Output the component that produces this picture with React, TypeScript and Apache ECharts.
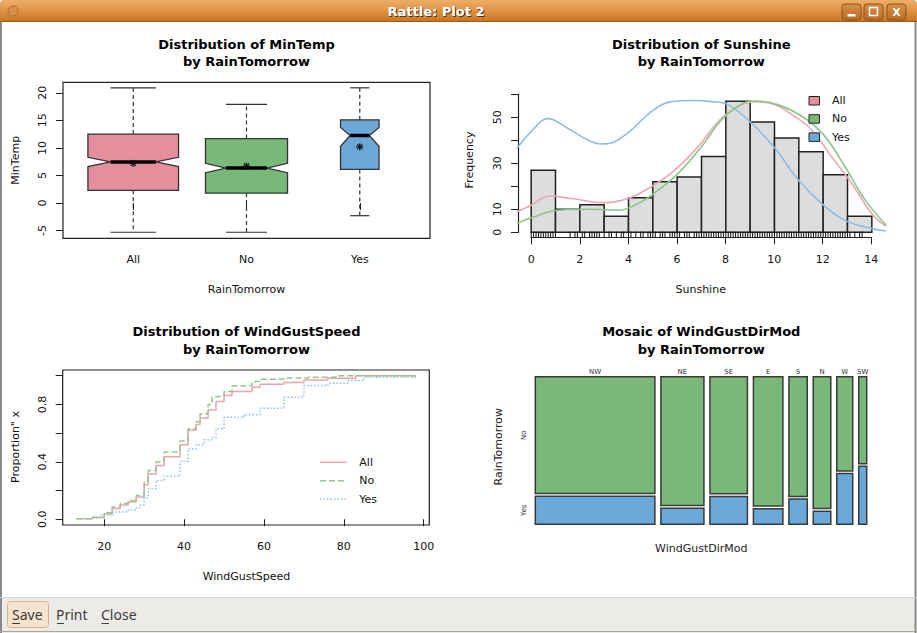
import React, { useEffect, useRef } from "react";
import * as echarts from "echarts";

// ---------------- Data ----------------
// Panel 1: notched boxplot of MinTemp by RainTomorrow
const boxCategories = ["All", "No", "Yes"];
const boxCounts = [366, 300, 66];
const boxLower = [-5.3, -5.3, -2.3];
const boxQ1 = [2.3, 1.8, 6.1];
const boxNotchLow = [6.6, 5.5, 10.3];
const boxMedian = [7.45, 6.35, 12.25];
const boxNotchHigh = [8.3, 7.2, 13.7];
const boxQ3 = [12.5, 11.7, 15.1];
const boxUpper = [20.9, 17.9, 20.9];
const boxMean = [7.2, 6.7, 10.2];
const minTempTicks = [-5, 0, 5, 10, 15, 20];
const boxPositions = [1, 2, 3];

// Panel 2: histogram of Sunshine with density curves
const sunBinStarts = [0, 1, 2, 3, 4, 5, 6, 7, 8, 9, 10, 11, 12, 13];
const sunCounts = [27, 10, 12, 7, 15, 22, 24, 33, 57, 48, 41, 35, 25, 7];
const densAll = [
  [-0.58, 8.9], [0, 11.8], [0.75, 15.8], [1.65, 14.7], [3.02, 12.9], [3.98, 14.7],
  [4.94, 19.8], [5.9, 27], [6.86, 37.2], [7.82, 49.6], [8.65, 55.4], [9.2, 56.8],
  [10.02, 55.4], [10.84, 50.3], [11.53, 44.5], [12.35, 32.8], [13.18, 21.2], [14, 8.1], [14.59, 2.6],
];
const densNo = [
  [-0.58, 3.8], [0, 6.3], [1.1, 9.6], [2.47, 10], [3.57, 9.6], [4.39, 12.5], [5.22, 18.3],
  [6.04, 25.6], [7, 37.2], [7.82, 48.8], [8.65, 55.8], [9.2, 57.1], [10.16, 55.4],
  [11.25, 49.6], [12.08, 41.6], [12.9, 28.5], [13.73, 14], [14.59, 3.1],
];
const densYes = [
  [-0.58, 36.5], [0, 43.8], [0.69, 49.4], [1.51, 45.2], [2.33, 40.1], [2.88, 38.4],
  [3.43, 39.4], [4.12, 44.5], [4.94, 52.5], [5.76, 56.8], [6.59, 57.3], [7.41, 56.8],
  [8.1, 55.4], [9.06, 47.4], [10.02, 36.5], [10.98, 22.7], [11.94, 12.5], [12.9, 5.2],
  [14, 1.6], [14.59, 0.6],
];
const sunRug = [
  0, 0.1, 0.2, 0.3, 0.4, 0.5, 0.6, 0.7, 0.8, 0.9, 1.0, 1.6, 1.8, 1.9, 2.1, 2.2, 2.4, 2.5,
  2.6, 2.7, 2.8, 3.0, 3.2, 3.3, 3.5, 3.7, 3.8, 4.0, 4.1, 4.3, 4.5, 4.6, 4.8, 4.9, 5.0, 5.1,
  5.3, 5.4, 5.5, 5.7, 5.8, 5.9, 6.0, 6.1, 6.3, 6.4, 6.5, 6.7, 6.8, 6.9, 7.0, 7.1, 7.2, 7.3,
  7.4, 7.5, 7.6, 7.7, 7.8, 7.9, 8.0, 8.1, 8.2, 8.3, 8.4, 8.5, 8.6, 8.7, 8.8, 8.9, 9.0, 9.1,
  9.2, 9.3, 9.4, 9.5, 9.6, 9.7, 9.8, 9.9, 10.0, 10.1, 10.2, 10.3, 10.4, 10.5, 10.6, 10.7,
  10.8, 10.9, 11.0, 11.1, 11.2, 11.3, 11.4, 11.5, 11.6, 11.7, 11.8, 11.9, 12.0, 12.1, 12.2,
  12.3, 12.4, 12.5, 12.6, 12.7, 12.8, 12.9, 13.0, 13.1, 13.3, 13.5, 13.6,
];
const freqLabels = [0, 10, 30, 50];

// Panel 3: ECDF of WindGustSpeed
const ecdfAllX = [13, 17, 20, 22, 24, 26, 28, 30, 31, 33, 35, 39, 41, 43, 44, 46, 48, 50, 52, 57, 59, 65, 70, 76, 83, 98];
const ecdfAllY = [0.004, 0.012, 0.039, 0.075, 0.1, 0.12, 0.155, 0.24, 0.315, 0.375, 0.435, 0.52, 0.62, 0.66, 0.705, 0.762, 0.82, 0.862, 0.89, 0.92, 0.94, 0.953, 0.971, 0.982, 1.0, 1.0];
const ecdfNoX = [13, 17, 20, 22, 24, 26, 28, 30, 31, 33, 35, 39, 41, 43, 44, 46, 47, 50, 52, 57, 59, 65, 71, 78, 98];
const ecdfNoY = [0.004, 0.013, 0.045, 0.085, 0.11, 0.13, 0.165, 0.26, 0.34, 0.4, 0.468, 0.545, 0.63, 0.68, 0.735, 0.8, 0.856, 0.89, 0.93, 0.96, 0.975, 0.985, 0.99, 1.0, 1.0];
const ecdfYesX = [17, 19, 22, 26, 28, 29, 30, 31, 33, 35, 39, 41, 43, 45, 47, 48, 50, 55, 59, 65, 70, 76, 81, 85, 98];
const ecdfYesY = [0.015, 0.03, 0.05, 0.065, 0.08, 0.1, 0.15, 0.213, 0.27, 0.3, 0.405, 0.49, 0.52, 0.554, 0.57, 0.63, 0.71, 0.728, 0.774, 0.85, 0.932, 0.948, 0.966, 0.99, 0.99];
const windTicks = [20, 40, 60, 80, 100];
const propTicks = [0, 0.2, 0.4, 0.6, 0.8, 1.0];
const propLabels = [0, 0.4, 0.8];

// Panel 4: mosaic of WindGustDirMod by RainTomorrow
const dirCategories = ["NW", "NE", "SE", "E", "S", "N", "W", "SW"];
const dirNo = [121, 48, 38, 33, 19, 20, 13, 6];
const dirYes = [29, 6, 9, 4, 4, 2, 7, 4];

// ---------------- Styles ----------------
const FONT = '"DejaVu Sans", sans-serif';
const PINK = "#E48F9D";
const GREEN = "#78B878";
const BLUE = "#6AA8D9";
const boxColors = [PINK, GREEN, BLUE];

const labelStyle = { fontFamily: FONT, fontSize: 11, color: "#111" };
const tickStyle = { show: true, length: 7, lineStyle: { color: "#222", width: 1 } };

function txt(text: string, x: number, y: number, opts: any = {}) {
  return {
    type: "text",
    x,
    y,
    rotation: opts.rotation || 0,
    z: 50,
    style: {
      text,
      fill: opts.fill || "#111",
      font: opts.font || `11px ${FONT}`,
      align: opts.align || "center",
      verticalAlign: "middle",
      textAlign: opts.align || "center",
      textVerticalAlign: "middle",
      ...(opts.extra || {}),
    },
  };
}

function buildOption() {
  const maxN = Math.max(...boxCounts);
  const dirTotals = dirNo.map((v, i) => v + dirYes[i]);
  const grand = dirTotals.reduce((a, b) => a + b, 0);

  const graphic: any[] = [
    // window body
    { type: "rect", shape: { x: 0, y: 0, width: 917, height: 633 }, style: { fill: "#ffffff" }, z: -10 },
    { type: "line", shape: { x1: 1, y1: 20, x2: 1, y2: 633 }, style: { stroke: "#8a8a8a", lineWidth: 2 }, z: 40 },
    { type: "line", shape: { x1: 915.5, y1: 20, x2: 915.5, y2: 633 }, style: { stroke: "#8a8a8a", lineWidth: 2 }, z: 40 },
    // title bar
    {
      type: "rect",
      shape: { x: 0, y: 0, width: 917, height: 22, r: [4, 4, 0, 0] },
      style: {
        fill: new echarts.graphic.LinearGradient(0, 0, 0, 1, [
          { offset: 0, color: "#EEAE68" },
          { offset: 0.5, color: "#DE9244" },
          { offset: 1, color: "#C6741F" },
        ]),
      },
      z: 40,
    },
    { type: "line", shape: { x1: 0, y1: 21.5, x2: 917, y2: 21.5 }, style: { stroke: "#9A5B1C", lineWidth: 1 }, z: 41 },
    { type: "circle", shape: { cx: 13, cy: 11, r: 5 }, style: { fill: "#D88E48", stroke: "#B56B25", lineWidth: 1 }, z: 41 },
    txt("Rattle: Plot 2", 436, 11, {
      font: `bold 13px ${FONT}`,
      fill: "#ffffff",
      extra: { textShadowColor: "rgba(70,35,0,0.9)", textShadowBlur: 1, textShadowOffsetX: 1, textShadowOffsetY: 1 },
    }),
    ...[842, 864, 887].map((bx) => ({
      type: "rect",
      shape: { x: bx, y: 4, width: 19, height: 16, r: 3 },
      style: {
        fill: new echarts.graphic.LinearGradient(0, 0, 0, 1, [
          { offset: 0, color: "#D99149" },
          { offset: 1, color: "#B86A22" },
        ]),
        stroke: "#8E5116",
        lineWidth: 1,
      },
      z: 42,
    })),
    { type: "rect", shape: { x: 847.5, y: 14, width: 8, height: 2.5 }, style: { fill: "#ffffff" }, z: 43 },
    { type: "rect", shape: { x: 869.5, y: 7.5, width: 8, height: 8 }, style: { fill: "none", stroke: "#ffffff", lineWidth: 1.5 }, z: 43 },
    txt("X", 896.5, 12, { font: `bold 11px ${FONT}`, fill: "#ffffff", extra: { textShadowColor: "rgba(70,35,0,0.8)", textShadowOffsetX: 1, textShadowOffsetY: 1 } }),
    // bottom button bar
    { type: "rect", shape: { x: 0, y: 597, width: 917, height: 36 }, style: { fill: "#EDEBE8" }, z: 39 },
    { type: "line", shape: { x1: 0, y1: 597.5, x2: 917, y2: 597.5 }, style: { stroke: "#D8D4CF", lineWidth: 1 }, z: 40 },
    { type: "line", shape: { x1: 0, y1: 631.5, x2: 917, y2: 631.5 }, style: { stroke: "#A9A6A2", lineWidth: 1 }, z: 40 },
    { type: "rect", shape: { x: 7.5, y: 601.5, width: 41, height: 26, r: 3 }, style: { fill: "#F4E4CE", stroke: "#D9B68E", lineWidth: 1 }, z: 41 },
    txt("Save", 12, 614.5, { align: "left", font: `14px "Noto Sans", sans-serif`, fill: "#3C3C3C" }),
    txt("Print", 56, 614.5, { align: "left", font: `14px "Noto Sans", sans-serif`, fill: "#3C3C3C" }),
    txt("Close", 101, 614.5, { align: "left", font: `14px "Noto Sans", sans-serif`, fill: "#3C3C3C" }),
    { type: "line", shape: { x1: 12, y1: 623.5, x2: 20, y2: 623.5 }, style: { stroke: "#3C3C3C", lineWidth: 1 }, z: 52 },
    { type: "line", shape: { x1: 57, y1: 623.5, x2: 64, y2: 623.5 }, style: { stroke: "#3C3C3C", lineWidth: 1 }, z: 52 },
    { type: "line", shape: { x1: 101.5, y1: 623.5, x2: 109, y2: 623.5 }, style: { stroke: "#3C3C3C", lineWidth: 1 }, z: 52 },

    // panel titles
    txt("Distribution of MinTemp", 246.5, 44.3, { font: `bold 13px ${FONT}`, fill: "#000" }),
    txt("by RainTomorrow", 246.5, 61.7, { font: `bold 13px ${FONT}`, fill: "#000" }),
    txt("Distribution of Sunshine", 701.3, 44.3, { font: `bold 13px ${FONT}`, fill: "#000" }),
    txt("by RainTomorrow", 701.3, 61.7, { font: `bold 13px ${FONT}`, fill: "#000" }),
    txt("Distribution of WindGustSpeed", 246.5, 331.7, { font: `bold 13px ${FONT}`, fill: "#000" }),
    txt("by RainTomorrow", 246.5, 349, { font: `bold 13px ${FONT}`, fill: "#000" }),
    txt("Mosaic of WindGustDirMod", 701.3, 331.7, { font: `bold 13px ${FONT}`, fill: "#000" }),
    txt("by RainTomorrow", 701.3, 349, { font: `bold 13px ${FONT}`, fill: "#000" }),

    // axis titles
    txt("RainTomorrow", 246.5, 289.3),
    txt("MinTemp", 15, 160.3, { rotation: Math.PI / 2 }),
    txt("Sunshine", 700.7, 289.3),
    txt("Frequency", 469.7, 160, { rotation: Math.PI / 2 }),
    txt("WindGustSpeed", 246.5, 576.7),
    txt('Proportion" x', 15, 447, { rotation: Math.PI / 2 }),
    txt("RainTomorrow", 498, 446.7, { rotation: Math.PI / 2, fill: "#222" }),
    txt("WindGustDirMod", 701.3, 548.3, { fill: "#222" }),

    // legend panel 2
    ...[PINK, GREEN, BLUE].map((c, i) => ({
      type: "rect",
      shape: { x: 809, y: 96.5 + i * 18.2, width: 10.5, height: 8.5 },
      style: { fill: c, stroke: "#222", lineWidth: 1 },
      z: 50,
    })),
    txt("All", 832, 100.7, { align: "left" }),
    txt("No", 832, 118.9, { align: "left" }),
    txt("Yes", 832, 137.1, { align: "left" }),

    // legend panel 3
    { type: "line", shape: { x1: 320, y1: 462.3, x2: 346.7, y2: 462.3 }, style: { stroke: "#F0A2AE", lineWidth: 1.5 }, z: 50 },
    { type: "line", shape: { x1: 320, y1: 480.7, x2: 346.7, y2: 480.7 }, style: { stroke: "#8FC98D", lineWidth: 1.5, lineDash: [6, 3] }, z: 50 },
    { type: "line", shape: { x1: 320, y1: 499, x2: 346.7, y2: 499 }, style: { stroke: "#8DC0EC", lineWidth: 1.5, lineDash: [1.5, 2] }, z: 50 },
    txt("All", 359.3, 462.3, { align: "left" }),
    txt("No", 359.3, 480.7, { align: "left" }),
    txt("Yes", 359.3, 499, { align: "left" }),
  ];

  return {
    animation: false,
    backgroundColor: "#ffffff",
    graphic,
    grid: [
      { left: 63, top: 82.3, width: 367, height: 156, show: true, borderColor: "#222", borderWidth: 1.2, backgroundColor: "transparent" },
      { left: 517.3, top: 93.6, width: 368.4, height: 144 },
      { left: 531.3, top: 93.6, width: 340, height: 143.7 },
      { left: 518, top: 94.3, width: 340, height: 138 },
      { left: 62.7, top: 370, width: 366.6, height: 155, show: true, borderColor: "#222", borderWidth: 1.2, backgroundColor: "transparent" },
      { left: 535.3, top: 376.7, width: 331.4, height: 147.6 },
    ],
    xAxis: [
      {
        gridIndex: 0, type: "value", min: 0.38, max: 3.62,
        axisLine: { show: false }, splitLine: { show: false },
        axisTick: { ...tickStyle, customValues: boxPositions },
        axisLabel: { ...labelStyle, margin: 16, customValues: boxPositions, formatter: (v: number) => boxCategories[Math.round(v) - 1] ?? "" },
      },
      { gridIndex: 1, type: "value", min: -0.57, max: 14.57, show: false },
      {
        gridIndex: 2, type: "value", min: 0, max: 14, interval: 2,
        axisLine: { show: true, lineStyle: { color: "#222", width: 1.2 } }, splitLine: { show: false },
        axisTick: tickStyle, axisLabel: { ...labelStyle, margin: 17 },
      },
      { gridIndex: 3, type: "value", min: 0, max: 1, show: false },
      {
        gridIndex: 4, type: "value", min: 9.6, max: 101.4,
        axisLine: { show: false }, splitLine: { show: false },
        axisTick: { ...tickStyle, customValues: windTicks },
        axisLabel: { ...labelStyle, margin: 16, customValues: windTicks },
      },
      { gridIndex: 5, type: "value", min: 0, max: 8, show: false },
    ],
    yAxis: [
      {
        gridIndex: 0, type: "value", min: -6.4, max: 21.9,
        axisLine: { show: false }, splitLine: { show: false },
        axisTick: { ...tickStyle, customValues: minTempTicks },
        axisLabel: { ...labelStyle, margin: 15, rotate: 90, customValues: minTempTicks },
      },
      { gridIndex: 1, type: "value", min: -2.3, max: 60.3, show: false },
      { gridIndex: 2, type: "value", min: 0, max: 1, show: false },
      {
        gridIndex: 3, type: "value", min: 0, max: 60, interval: 10,
        axisLine: { show: true, lineStyle: { color: "#222", width: 1.2 } }, splitLine: { show: false },
        axisTick: tickStyle,
        axisLabel: { ...labelStyle, margin: 15, rotate: 90, customValues: freqLabels },
      },
      {
        gridIndex: 4, type: "value", min: -0.04, max: 1.04,
        axisLine: { show: false }, splitLine: { show: false },
        axisTick: { ...tickStyle, customValues: propTicks },
        axisLabel: { ...labelStyle, margin: 15, rotate: 90, customValues: propLabels, formatter: (v: number) => v.toFixed(1) },
      },
      { gridIndex: 5, type: "value", min: 0, max: 1, show: false },
    ],
    series: [
      // boxplot
      {
        type: "custom",
        xAxisIndex: 0,
        yAxisIndex: 0,
        encode: { x: 0, y: 4 },
        data: boxCategories.map((c, i) => [
          boxPositions[i], boxLower[i], boxQ1[i], boxNotchLow[i], boxMedian[i],
          boxNotchHigh[i], boxQ3[i], boxUpper[i], boxMean[i], boxCounts[i],
        ]),
        renderItem: (params: any, api: any) => {
          const x = api.value(0);
          const yv = (k: number) => api.coord([x, api.value(k)])[1];
          const cx = api.coord([x, 0])[0];
          const wUnits = 0.8 * Math.sqrt(api.value(9) / maxN);
          const hw = api.size([wUnits, 0])[0] / 2;
          const yLow = yv(1), yQ1 = yv(2), yNL = yv(3), yMed = yv(4), yNH = yv(5), yQ3 = yv(6), yHigh = yv(7), yMean = yv(8);
          const L = cx - hw, R = cx + hw, iL = cx - hw / 2, iR = cx + hw / 2;
          const stroke = "#333";
          const s = 3.6, d = 2.6;
          return {
            type: "group",
            children: [
              { type: "line", shape: { x1: cx, y1: yQ3, x2: cx, y2: yHigh }, style: { stroke, lineWidth: 1.2, lineDash: [4, 3] } },
              { type: "line", shape: { x1: cx, y1: yQ1, x2: cx, y2: yLow }, style: { stroke, lineWidth: 1.2, lineDash: [4, 3] } },
              { type: "line", shape: { x1: iL, y1: yHigh, x2: iR, y2: yHigh }, style: { stroke, lineWidth: 1.2 } },
              { type: "line", shape: { x1: iL, y1: yLow, x2: iR, y2: yLow }, style: { stroke, lineWidth: 1.2 } },
              {
                type: "polygon",
                shape: { points: [[L, yQ3], [R, yQ3], [R, yNH], [iR, yMed], [R, yNL], [R, yQ1], [L, yQ1], [L, yNL], [iL, yMed], [L, yNH]] },
                style: { fill: boxColors[params.dataIndex], stroke, lineWidth: 1.3 },
              },
              { type: "line", shape: { x1: iL, y1: yMed, x2: iR, y2: yMed }, style: { stroke: "#000", lineWidth: 3.5 } },
              { type: "line", shape: { x1: cx - s, y1: yMean, x2: cx + s, y2: yMean }, style: { stroke: "#111", lineWidth: 1.2 } },
              { type: "line", shape: { x1: cx, y1: yMean - s, x2: cx, y2: yMean + s }, style: { stroke: "#111", lineWidth: 1.2 } },
              { type: "line", shape: { x1: cx - d, y1: yMean - d, x2: cx + d, y2: yMean + d }, style: { stroke: "#111", lineWidth: 1.2 } },
              { type: "line", shape: { x1: cx - d, y1: yMean + d, x2: cx + d, y2: yMean - d }, style: { stroke: "#111", lineWidth: 1.2 } },
            ],
          };
        },
        z: 5,
      },
      // histogram
      {
        type: "custom",
        xAxisIndex: 1,
        yAxisIndex: 1,
        encode: { x: [0, 1], y: 2 },
        data: sunBinStarts.map((b, i) => [b, b + 1, sunCounts[i]]),
        renderItem: (params: any, api: any) => {
          const p0 = api.coord([api.value(0), api.value(2)]);
          const p1 = api.coord([api.value(1), 0]);
          return {
            type: "rect",
            shape: { x: p0[0], y: p0[1], width: p1[0] - p0[0], height: p1[1] - p0[1] },
            style: { fill: "#DCDDDC", stroke: "#222", lineWidth: 1.5 },
          };
        },
        z: 2,
      },
      // rug
      {
        type: "custom",
        xAxisIndex: 1,
        yAxisIndex: 1,
        encode: { x: 0, y: 1 },
        data: sunRug.map((v) => [v, 0]),
        renderItem: (params: any, api: any) => {
          const p = api.coord([api.value(0), 0]);
          const bottom = params.coordSys.y + params.coordSys.height;
          return { type: "line", shape: { x1: p[0], y1: bottom, x2: p[0], y2: bottom - 6 }, style: { stroke: "#111", lineWidth: 1 } };
        },
        z: 3,
      },
      // density curves
      { name: "Yes", type: "line", xAxisIndex: 1, yAxisIndex: 1, data: densYes, smooth: 0.4, symbol: "none", lineStyle: { color: "#8DBDE7", width: 1.6 }, z: 4 },
      { name: "All", type: "line", xAxisIndex: 1, yAxisIndex: 1, data: densAll, smooth: 0.4, symbol: "none", lineStyle: { color: "#EDA6B1", width: 1.6 }, z: 4 },
      { name: "No", type: "line", xAxisIndex: 1, yAxisIndex: 1, data: densNo, smooth: 0.4, symbol: "none", lineStyle: { color: "#8DC68B", width: 1.6 }, z: 4 },
      // ECDF
      { name: "All", type: "line", xAxisIndex: 4, yAxisIndex: 4, step: "end", symbol: "none", data: ecdfAllX.map((x, i) => [x, ecdfAllY[i]]), lineStyle: { color: "#F0A2AE", width: 1.5 }, z: 4 },
      { name: "No", type: "line", xAxisIndex: 4, yAxisIndex: 4, step: "end", symbol: "none", data: ecdfNoX.map((x, i) => [x, ecdfNoY[i]]), lineStyle: { color: "#8FC98D", width: 1.5, type: [6, 3] }, z: 5 },
      { name: "Yes", type: "line", xAxisIndex: 4, yAxisIndex: 4, step: "end", symbol: "none", data: ecdfYesX.map((x, i) => [x, ecdfYesY[i]]), lineStyle: { color: "#8DC0EC", width: 1.5, type: [1.5, 2] }, z: 4 },
      // mosaic
      {
        type: "custom",
        xAxisIndex: 5,
        yAxisIndex: 5,
        encode: { x: 0, y: 1 },
        data: dirCategories.map((c, i) => [i + 0.5, 0.5, i]),
        renderItem: (params: any, api: any) => {
          const cs = params.coordSys;
          const i = api.value(2);
          const gapX = 6, gapY = 2.7;
          const n = dirCategories.length;
          const usableW = cs.width - gapX * (n - 1);
          let x0 = cs.x;
          for (let k = 0; k < i; k++) x0 += (dirTotals[k] / grand) * usableW + gapX;
          const w = (dirTotals[i] / grand) * usableW;
          const usableH = cs.height - gapY;
          const hNo = (dirNo[i] / dirTotals[i]) * usableH;
          const hYes = usableH - hNo;
          const tileStroke = { stroke: "#3A3A3A", lineWidth: 1.5 };
          const children: any[] = [
            { type: "rect", shape: { x: x0, y: cs.y, width: w, height: hNo }, style: { fill: GREEN, ...tileStroke } },
            { type: "rect", shape: { x: x0, y: cs.y + hNo + gapY, width: w, height: hYes }, style: { fill: BLUE, ...tileStroke } },
            {
              type: "text", x: x0 + w / 2, y: cs.y - 5,
              style: { text: dirCategories[i], fill: "#333", font: `7px ${FONT}`, align: "center", verticalAlign: "middle", textAlign: "center", textVerticalAlign: "middle" },
            },
          ];
          if (i === 0) {
            children.push(
              { type: "text", x: cs.x - 11.6, y: cs.y + hNo / 2, rotation: Math.PI / 2, style: { text: "No", fill: "#333", font: `7px ${FONT}`, align: "center", verticalAlign: "middle", textAlign: "center", textVerticalAlign: "middle" } },
              { type: "text", x: cs.x - 11.6, y: cs.y + hNo + gapY + hYes / 2, rotation: Math.PI / 2, style: { text: "Yes", fill: "#333", font: `7px ${FONT}`, align: "center", verticalAlign: "middle", textAlign: "center", textVerticalAlign: "middle" } },
            );
          }
          return { type: "group", children };
        },
        z: 3,
      },
    ],
  };
}

export default function App() {
  const ref = useRef<HTMLDivElement>(null);
  useEffect(() => {
    if (!ref.current) return;
    const chart = echarts.init(ref.current, null, { renderer: "svg" });
    chart.setOption(buildOption() as any);
    return () => chart.dispose();
  }, []);
  return <div ref={ref} style={{ position: "fixed", left: 0, top: 0, width: 917, height: 633, background: "#fff" }} />;
}
